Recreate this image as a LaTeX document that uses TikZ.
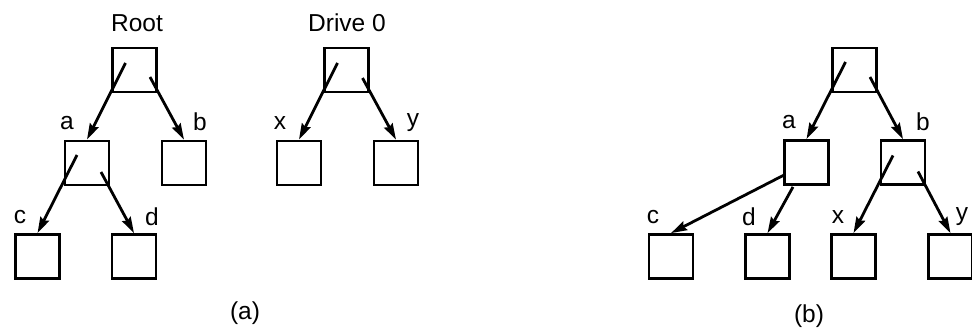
\documentclass[tikz,border=0pt]{standalone}
\usepackage{fontspec}
\setmainfont{Liberation Sans}
\usetikzlibrary{arrows.meta,calc}
\begin{document}
\begin{tikzpicture}[x=1pt,y=-1pt,
  dirbox/.style={draw,line width=2.8pt,minimum width=44pt,minimum height=44pt,inner sep=0pt},
  lbl/.style={inner sep=0pt,font=\fontsize{24.5}{28}\selectfont},
  ptr/.style={line width=2.8pt,-{Stealth[length=16pt,width=9.5pt,inset=2pt]}}]
\useasboundingbox (0,0) rectangle (972,329);

% ---- (a): two separate file systems ----
\node[dirbox] (r)  at (134.5,70) {};
\node[dirbox] (a)  at (87,163) {};
\node[dirbox] (b)  at (184,163) {};
\node[dirbox] (c)  at (37.5,256.5) {};
\node[dirbox] (d)  at (134,256.5) {};
\node[dirbox] (dr) at (346.5,70) {};
\node[dirbox] (x)  at (299,163) {};
\node[dirbox] (y)  at (396,163) {};

\node[lbl] (tRoot)  at (137,23) {Root};
\node[lbl] (tDrive) at (347,23) {Drive 0};
\node[lbl] (ta) at (67,123) {a};
\node[lbl] (tb) at (200,122) {b};
\node[lbl] (tc) at (20,217) {c};
\node[lbl] (td) at (152,217) {d};
\node[lbl] (tx) at (280,123) {x};
\node[lbl] (ty) at (413,123) {y};
\node[lbl] (capA) at (245,313) {(a)};

\draw[ptr] ($(r.center)+(-9,-7)$)  -- (a.north);
\draw[ptr] ($(r.center)+(15.5,7)$) -- (b.north);
\draw[ptr] ($(a.center)+(-10,-8)$) -- (c.north);
\draw[ptr] ($(a.center)+(14,9)$)   -- (d.north);
\draw[ptr] ($(dr.center)+(-9,-7)$) -- (x.north);
\draw[ptr] ($(dr.center)+(16,8)$)  -- (y.north);

% ---- (b): Drive 0 mounted on b ----
\node[dirbox] (R2) at (854.5,70) {};
\node[dirbox] (A2) at (806.5,162.5) {};
\node[dirbox] (B2) at (903,162.5) {};
\node[dirbox] (C2) at (671,256.5) {};
\node[dirbox] (D2) at (767.5,256.5) {};
\node[dirbox] (X2) at (853.5,256.5) {};
\node[dirbox] (Y2) at (950.5,256.5) {};

\node[lbl] (ta2) at (789,122) {a};
\node[lbl] (tb2) at (923,122) {b};
\node[lbl] (tc2) at (653,217) {c};
\node[lbl] (td2) at (749,217) {d};
\node[lbl] (tx2) at (838,217) {x};
\node[lbl] (ty2) at (962,217) {y};
\node[lbl] (capB) at (809,316) {(b)};

\draw[ptr] ($(R2.center)+(-9,-8)$)  -- (A2.north);
\draw[ptr] ($(R2.center)+(15.5,7)$) -- (B2.north);
\draw[ptr] ($(A2.west)+(1,12.5)$)   -- (C2.north);
\draw[ptr] ($(A2.south)+(-13.5,1)$) -- (D2.north);
\draw[ptr] ($(B2.center)+(-10,-7)$) -- (X2.north);
\draw[ptr] ($(B2.center)+(15,9)$)   -- (Y2.north);
\end{tikzpicture}
\end{document}
